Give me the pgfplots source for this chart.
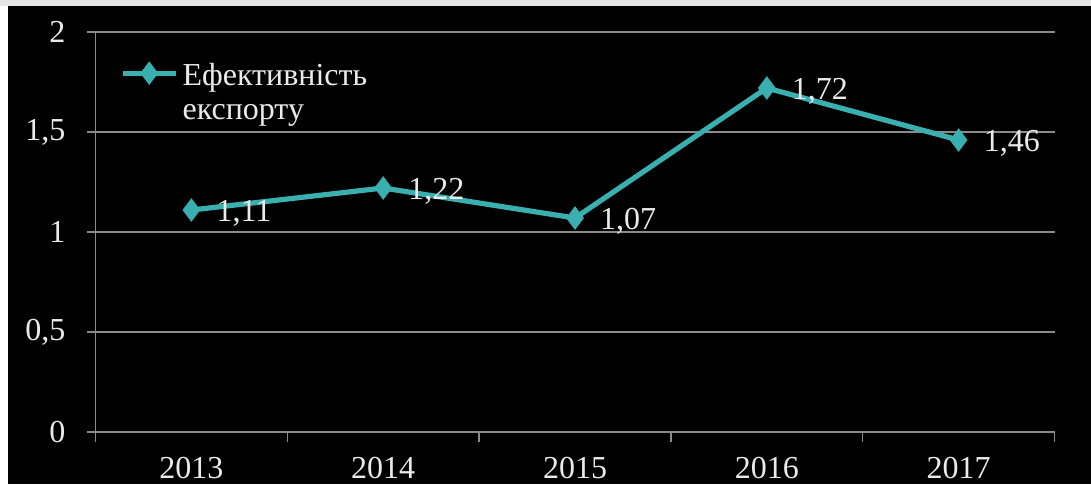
\documentclass[border=0pt]{standalone}
\usepackage{fontspec}
\setmainfont{Liberation Serif}
\usepackage{pgfplots}
\pgfplotsset{compat=1.18}
\definecolor{lineteal}{HTML}{3AAFB0}
\definecolor{gridgray}{HTML}{8A8A8A}
\definecolor{txt}{HTML}{EAEAEA}
\definecolor{frame}{HTML}{E6E6E6}
\begin{document}
\begin{tikzpicture}[x=1pt,y=1pt]
\useasboundingbox (0,0) rectangle (545.5,-242);
\fill[white] (0,0) rectangle (545.5,-242);
\fill[frame] (0,0) rectangle (545.5,-3);
\fill[black] (4,-3) rectangle (545.5,-242);
\begin{axis}[
  at={(49.8,-216)}, anchor=south west,
  scale only axis, width=479.5pt, height=200pt,
  xmin=-0.5, xmax=4.5, ymin=0, ymax=2,
  xtick={0,1,2,3,4},
  xticklabels={2013,2014,2015,2016,2017},
  minor xtick={-0.5,0.5,1.5,2.5,3.5,4.5},
  ytick={0,0.5,1,1.5,2},
  yticklabels={0,{0,5},1,{1,5},2},
  axis x line*=bottom, axis y line*=left,
  axis line style={gridgray, line width=0.7pt, -},
  tick align=outside,
  major x tick style={draw=none},
  minor x tick style={gridgray, line width=0.7pt},
  minor tick length=5pt,
  major y tick style={gridgray, line width=0.7pt},
  major tick length=4.5pt,
  ymajorgrids, grid style={gridgray, line width=0.7pt},
  every tick label/.style={font=\fontsize{16}{19}\selectfont, text=txt},
  xticklabel style={yshift=-4.5pt},
  yticklabel style={xshift=-7pt},
  /pgf/number format/assume math mode=true,
  legend style={draw=none, fill=none, at={(rel axis cs:0,1)}, anchor=north west,
    xshift=9pt, yshift=-9pt, font=\fontsize{16}{19}\selectfont, text=txt,
    cells={anchor=west}},
  legend image code/.code={\draw[#1, mark=none] (0cm,0cm) -- (0.94cm,0cm);
     \draw[#1, only marks, mark=diamond*] plot coordinates {(0.47cm,0cm)};},
  clip=false,
]
\addplot[color=lineteal, line width=2.6pt, mark=diamond*, mark size=5.5pt,
  mark options={fill=lineteal, draw=lineteal, line width=0.5pt},
  nodes near coords, point meta=y,
  nodes near coords style={anchor=west, xshift=9pt, yshift=-1.5pt, text=txt,
    font=\fontsize{16}{19}\selectfont,
    /pgf/number format/.cd, fixed, fixed zerofill, precision=2, use comma, assume math mode=true},
] coordinates {(0,1.11) (1,1.22) (2,1.07) (3,1.72) (4,1.46)};
\addlegendentry{\begin{tabular}[t]{@{}l@{}}Ефективність\\[-2pt]експорту\end{tabular}}
\end{axis}
\end{tikzpicture}
\end{document}
